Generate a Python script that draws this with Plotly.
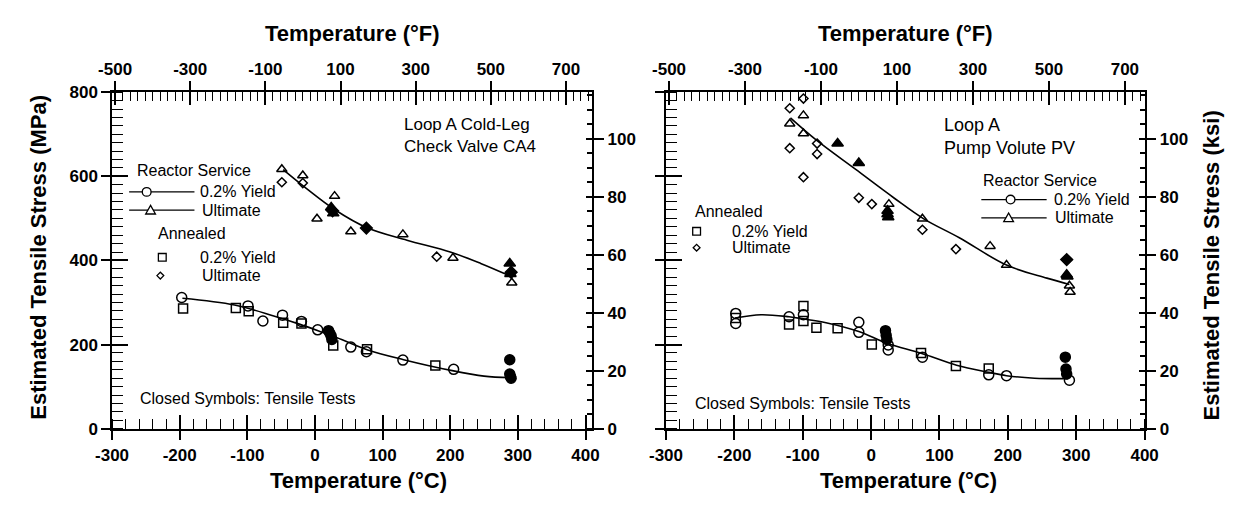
import plotly.graph_objects as go

W, H = 1242, 507

# ---------------- Left panel: Loop A Cold-Leg Check Valve CA4 ----------------
cv_rs_yield_T = [-197, -99, -77, -48, -20, 4, 53, 76, 130, 205]
cv_rs_yield = [312, 292, 256, 270, 255, 235, 194, 183, 163, 141]
cv_an_yield_T = [-195, -117, -98, -47, -20, 27, 77, 178]
cv_an_yield = [286, 287, 279, 252, 250, 198, 189, 150]
cv_tt_yield_T = [20, 22, 24, 25, 288, 288, 289, 290]
cv_tt_yield = [233, 227, 220, 212, 164, 130, 124, 120]
cv_rs_ult_T = [-49, -18, 3, 29, 53, 130, 204, 291]
cv_rs_ult = [617, 602, 499, 553, 469, 462, 406, 347]
cv_an_ult_T = [-49, -18, 180]
cv_an_ult = [586, 584, 409]
cv_tt_ult_T = [24, 27, 288, 289]
cv_tt_ult = [526, 512, 393, 368]
cv_tt_an_ult_T = [26, 76, 290]
cv_tt_an_ult = [518, 477, 372]
cv_ult_fit_T = [-47, -18, 30, 78, 136, 200, 245, 290]
cv_ult_fit = [616, 578, 520, 477, 448, 420, 393, 362]
cv_yld_fit_T = [-196, -119, -61, -22, 16, 30, 78, 131, 203, 250, 290]
cv_yld_fit = [310, 294, 268, 248, 226, 218, 187, 164, 138, 125, 121]

# ---------------- Right panel: Loop A Pump Volute PV ----------------
pv_rs_yield_T = [-198, -198, -120, -99, -18, -18, 25, 25, 75, 172, 198, 290]
pv_rs_yield = [274, 250, 266, 271, 253, 229, 199, 187, 170, 128, 126, 115]
pv_an_yield_T = [-198, -120, -99, -99, -80, -49, 1, 73, 124, 172]
pv_an_yield = [263, 248, 292, 256, 240, 239, 200, 180, 149, 143]
pv_tt_yield_T = [21, 22, 23, 284, 285, 286]
pv_tt_yield = [233, 222, 212, 170, 142, 130]
pv_rs_ult_T = [-119, -99, -99, 26, 75, 174, 198, 290, 291]
pv_rs_ult = [725, 745, 702, 534, 499, 434, 389, 340, 325]
pv_an_ult_T = [-119, -99, -119, -79, -79, -99, -18, 1, 75, 124]
pv_an_ult = [762, 785, 667, 678, 653, 598, 549, 534, 473, 427]
pv_tt_ult_T = [-49, -18, 24, 24, 25, 286, 287]
pv_tt_ult = [678, 632, 518, 510, 503, 366, 362]
pv_tt_an_ult_T = [286]
pv_tt_an_ult = [402]
pv_ult_fit_T = [-118, -80, -23, 34, 77, 129, 198, 257, 290]
pv_ult_fit = [739, 686, 617, 548, 499, 454, 389, 358, 343]
pv_yld_fit_T = [-199, -161, -120, -99, -66, -18, 25, 72, 125, 172, 198, 239, 288]
pv_yld_fit = [263, 271, 266, 261, 252, 231, 202, 180, 151, 134, 126, 120, 119]

# ---------------- tick labels ----------------
c_ticks = [-300, -200, -100, 0, 100, 200, 300, 400]
f_ticks = [-500, -300, -100, 100, 300, 500, 700]
mpa_ticks = [0, 200, 400, 600, 800]
ksi_ticks = [0, 20, 40, 60, 80, 100]
MPA_PER_KSI = 6.8948

FONT = "Liberation Sans, Arial, Helvetica, sans-serif"
BLACK = "black"


def PX(x):
    return x / W


def PY(y):
    return 1 - y / H


def xr(k):
    return "x" if k == 1 else f"x{k}"


def yr(k):
    return "y" if k == 1 else f"y{k}"


def lx(k):
    return "xaxis" if k == 1 else f"xaxis{k}"


def ly(k):
    return "yaxis" if k == 1 else f"yaxis{k}"


panels = [
    dict(dom=(97.5, 590.0), rng=(-300, 410), mpa_labels=True),
    dict(dom=(665.6, 1156.5), rng=(-300, 400), mpa_labels=False),
]
ydom = [PY(436), PY(86.5)]

fig = go.Figure()
layout = {}
tickfont = dict(family=FONT, size=17, color=BLACK, weight="bold")

for i, p in enumerate(panels):
    b = 4 * i
    dx = [PX(p["dom"][0]), PX(p["dom"][1])]
    c0, c1 = p["rng"]
    f0, f1 = c0 * 9 / 5 + 32, c1 * 9 / 5 + 32
    krng = [0, 800 / MPA_PER_KSI]
    common = dict(showgrid=False, zeroline=False, linecolor=BLACK, linewidth=1.6,
                  tickcolor=BLACK, tickwidth=1.5, tickfont=tickfont)
    # bottom Celsius axis
    layout[lx(b + 1)] = dict(common, domain=dx, range=[c0, c1], anchor=yr(b + 1), side="bottom",
                             showline=True, ticks="outside", ticklen=10, tickmode="array",
                             tickvals=c_ticks, ticktext=[str(v) for v in c_ticks],
                             minor=dict(ticks="inside", ticklen=10, tickmode="linear", tick0=0, dtick=20,
                                        tickcolor=BLACK, tickwidth=1.2, showgrid=False))
    # left MPa axis
    layout[ly(b + 1)] = dict(common, domain=ydom, range=[0, 800], anchor=xr(b + 1), side="left",
                             showline=True, ticks="outside", ticklen=9, tickmode="array",
                             tickvals=mpa_ticks, ticktext=[str(v) for v in mpa_ticks],
                             showticklabels=p["mpa_labels"],
                             minor=dict(ticks="inside", ticklen=11, tickmode="linear", tick0=0, dtick=20,
                                        tickcolor=BLACK, tickwidth=1.2, showgrid=False))
    # top Fahrenheit axis
    layout[lx(b + 2)] = dict(common, range=[f0, f1], overlaying=xr(b + 1), anchor=yr(b + 1), side="top",
                             showline=True, ticks="outside", ticklen=9, tickmode="array",
                             tickvals=f_ticks, ticktext=[str(v) for v in f_ticks],
                             minor=dict(ticks="inside", ticklen=9, tickmode="linear", tick0=-500, dtick=20,
                                        tickcolor=BLACK, tickwidth=1.2, showgrid=False))
    # right ksi axis
    layout[ly(b + 2)] = dict(common, range=krng, overlaying=yr(b + 1), anchor=xr(b + 1), side="right",
                             showline=True, ticks="outside", ticklen=10, tickmode="array",
                             tickvals=ksi_ticks, ticktext=[str(v) for v in ksi_ticks],
                             minor=dict(ticks="inside", ticklen=5, tickmode="linear", tick0=0, dtick=5,
                                        tickcolor=BLACK, tickwidth=1.5, showgrid=False))
    # inward halves of the major (crossing) ticks
    inner = dict(showgrid=False, zeroline=False, showline=False, showticklabels=False,
                 ticks="inside", tickcolor=BLACK, tickwidth=1.5, tickmode="array")
    layout[lx(b + 3)] = dict(inner, range=[c0, c1], overlaying=xr(b + 1), anchor=yr(b + 1), side="bottom",
                             ticklen=14, tickvals=c_ticks)
    layout[ly(b + 3)] = dict(inner, range=[0, 800], overlaying=yr(b + 1), anchor=xr(b + 1), side="left",
                             ticklen=16, tickvals=mpa_ticks)
    layout[lx(b + 4)] = dict(inner, range=[f0, f1], overlaying=xr(b + 1), anchor=yr(b + 1), side="top",
                             ticklen=13, tickvals=f_ticks)
    layout[ly(b + 4)] = dict(inner, range=krng, overlaying=yr(b + 1), anchor=xr(b + 1), side="right",
                             ticklen=6, tickvals=ksi_ticks)
    # empty traces so that every overlay axis is drawn
    for xk, yk in [(b + 2, b + 1), (b + 1, b + 2), (b + 3, b + 1), (b + 1, b + 3), (b + 4, b + 1), (b + 1, b + 4)]:
        fig.add_trace(go.Scatter(x=[], y=[], xaxis=xr(xk), yaxis=yr(yk), showlegend=False, hoverinfo="skip"))


def add_series(k, x, y, symbol, size, lw=1.5):
    fig.add_trace(go.Scatter(x=x, y=y, mode="markers", xaxis=xr(k), yaxis=yr(k), showlegend=False,
                             marker=dict(symbol=symbol, size=size, color=BLACK,
                                         line=dict(color=BLACK, width=lw))))


def add_fit(k, x, y):
    fig.add_trace(go.Scatter(x=x, y=y, mode="lines", xaxis=xr(k), yaxis=yr(k), showlegend=False,
                             line=dict(color=BLACK, width=1.6, shape="spline", smoothing=1.0)))


for k, d in [(1, dict(rsy=(cv_rs_yield_T, cv_rs_yield), any=(cv_an_yield_T, cv_an_yield),
                      tty=(cv_tt_yield_T, cv_tt_yield), rsu=(cv_rs_ult_T, cv_rs_ult),
                      anu=(cv_an_ult_T, cv_an_ult), ttu=(cv_tt_ult_T, cv_tt_ult),
                      tta=(cv_tt_an_ult_T, cv_tt_an_ult), uf=(cv_ult_fit_T, cv_ult_fit),
                      yf=(cv_yld_fit_T, cv_yld_fit))),
             (5, dict(rsy=(pv_rs_yield_T, pv_rs_yield), any=(pv_an_yield_T, pv_an_yield),
                      tty=(pv_tt_yield_T, pv_tt_yield), rsu=(pv_rs_ult_T, pv_rs_ult),
                      anu=(pv_an_ult_T, pv_an_ult), ttu=(pv_tt_ult_T, pv_tt_ult),
                      tta=(pv_tt_an_ult_T, pv_tt_an_ult), uf=(pv_ult_fit_T, pv_ult_fit),
                      yf=(pv_yld_fit_T, pv_yld_fit)))]:
    add_fit(k, *d["uf"])
    add_fit(k, *d["yf"])
    add_series(k, *d["rsy"], "circle-open", 10)
    add_series(k, *d["any"], "square-open", 9)
    add_series(k, *d["tty"], "circle", 10)
    add_series(k, *d["rsu"], "triangle-up-open", 9)
    add_series(k, *d["anu"], "diamond-open", 7)
    add_series(k, *d["ttu"], "triangle-up", 10)
    add_series(k, *d["tta"], "diamond", 9)

# ---------------- text ----------------
ann = []


def text(t, x, y, size=16, weight="normal", xanchor="left", angle=0):
    ann.append(dict(text=t, x=PX(x), y=PY(y), xref="paper", yref="paper", showarrow=False,
                    xanchor=xanchor, yanchor="middle", textangle=angle, align="left",
                    font=dict(family=FONT, size=size, color=BLACK, weight=weight)))


# axis titles
text("Temperature (°F)", 344, 25, 22, "bold", "center")
text("Temperature (°F)", 911, 25, 22, "bold", "center")
text("Temperature (°C)", 350, 490, 22, "bold", "center")
text("Temperature (°C)", 914, 490, 22, "bold", "center")
text("Estimated Tensile Stress (MPa)", 22, 258, 22, "bold", "center", -90)
text("Estimated Tensile Stress (ksi)", 1225, 266, 22, "bold", "center", -90)

# left panel labels
text("Loop A Cold-Leg<br>Check Valve CA4", 395, 131, 17)
text("Reactor Service", 121, 168)
text("0.2% Yield", 186, 190)
text("Ultimate", 188, 209)
text("Annealed", 143, 233)
text("0.2% Yield", 186, 258)
text("Ultimate", 188, 277)
text("Closed Symbols: Tensile Tests", 124, 405)

# right panel labels
text("Loop A<br>Pump Volute PV", 949, 132, 18)
text("Reactor Service", 989, 178)
text("0.2% Yield", 1062, 198)
text("Ultimate", 1063, 217)
text("Annealed", 693, 210)
text("0.2% Yield", 731, 231)
text("Ultimate", 731, 248)
text("Closed Symbols: Tensile Tests", 693, 410)

# ---------------- legend sample symbols (layout decoration) ----------------
shapes = []
ln = dict(color=BLACK, width=1.3)


def hline(x0, x1, y):
    shapes.append(dict(type="line", xref="paper", yref="paper", x0=PX(x0), x1=PX(x1),
                       y0=PY(y), y1=PY(y), line=ln))


def circ(x, y, r=4.5):
    shapes.append(dict(type="circle", xref="paper", yref="paper", x0=PX(x - r), x1=PX(x + r),
                       y0=PY(y + r), y1=PY(y - r), line=ln, fillcolor="white"))


def sq(x, y, r=4):
    shapes.append(dict(type="rect", xref="paper", yref="paper", x0=PX(x - r), x1=PX(x + r),
                       y0=PY(y + r), y1=PY(y - r), line=ln, fillcolor="white"))


def tri(x, y, r=5):
    path = f"M {PX(x - r)},{PY(y + r * 0.8)} L {PX(x + r)},{PY(y + r * 0.8)} L {PX(x)},{PY(y - r)} Z"
    shapes.append(dict(type="path", xref="paper", yref="paper", path=path, line=ln, fillcolor="white"))


def dia(x, y, r=3.5):
    path = f"M {PX(x - r)},{PY(y)} L {PX(x)},{PY(y - r)} L {PX(x + r)},{PY(y)} L {PX(x)},{PY(y + r)} Z"
    shapes.append(dict(type="path", xref="paper", yref="paper", path=path, line=ln, fillcolor="white"))


hline(115, 182, 190); circ(133, 190)
hline(115, 182, 209); tri(137, 209)
sq(149, 258); dia(147, 277)
hline(989, 1056, 198); circ(1019, 198)
hline(989, 1056, 217); tri(1017, 217)
sq(697, 231); dia(697, 248)

layout.update(dict(width=W, height=H, margin=dict(l=0, r=0, t=0, b=0),
                   paper_bgcolor="white", plot_bgcolor="white", showlegend=False,
                   annotations=ann, shapes=shapes))
fig.update_layout(**layout)
fig.write_html("out.html")
